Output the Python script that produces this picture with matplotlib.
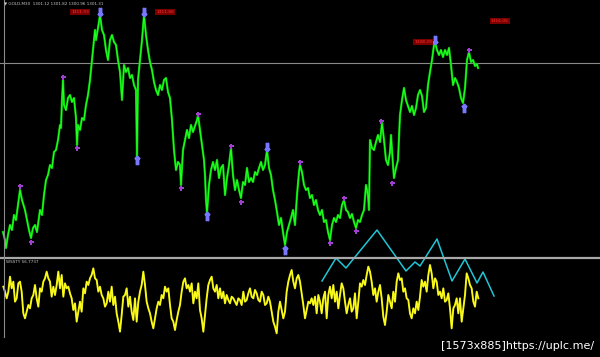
import matplotlib
matplotlib.use("Agg")
import matplotlib.pyplot as plt
import numpy as np
from matplotlib.lines import Line2D

# ---------------- data ----------------
# main price line: bar position and price level (arbitrary units, up = higher)
price_x = [3, 5, 6, 8, 10, 12, 14, 16, 18, 20,
           22, 25, 27, 29, 31, 33, 35, 37, 40, 42,
           44, 46, 48, 50, 52, 54, 56, 58, 60, 61,
           62, 63, 64, 66, 68, 70, 72, 74, 75, 76,
           77, 78, 80, 82, 84, 86, 88, 90, 92, 93,
           95, 96, 98, 100, 102, 104, 106, 108, 110, 112,
           114, 116, 118, 120, 122, 124, 126, 128, 130, 132,
           134, 136, 137, 138, 140, 142, 144, 146, 148, 150,
           152, 154, 156, 158, 160, 162, 164, 166, 168, 170,
           172, 174, 176, 178, 180, 181, 183, 185, 187, 189,
           191, 193, 195, 197, 198, 200, 202, 204, 205, 206,
           207, 209, 211, 213, 215, 217, 219, 221, 223, 225,
           227, 229, 231, 233, 235, 237, 239, 241, 243, 245,
           247, 249, 251, 253, 255, 257, 259, 261, 263, 265,
           267, 269, 271, 273, 275, 277, 279, 281, 283, 285,
           287, 289, 291, 293, 295, 297, 299, 300, 302, 304,
           306, 308, 310, 312, 314, 316, 318, 320, 322, 324,
           326, 328, 330, 332, 334, 336, 338, 340, 342, 344,
           346, 348, 350, 352, 354, 356, 358, 360, 362, 364,
           366, 368, 369, 370, 372, 374, 376, 378, 380, 382,
           384, 386, 388, 390, 391, 393, 394, 396, 398, 400,
           402, 404, 406, 408, 410, 412, 414, 416, 418, 420,
           422, 424, 426, 428, 430, 432, 434, 435, 437, 439,
           441, 443, 445, 447, 449, 451, 453, 455, 457, 459,
           461, 463, 465, 467, 469, 471, 473, 475, 477, 478]
price_h = [28, 20, 12, 25, 35, 30, 45, 40, 55, 70,
           60, 50, 40, 30, 22, 32, 35, 28, 50, 45,
           65, 80, 85, 95, 92, 108, 110, 120, 135, 132,
           160, 180, 155, 150, 162, 165, 158, 162, 152, 142,
           115, 135, 130, 142, 140, 155, 165, 180, 200, 210,
           230, 220, 232, 245, 230, 225, 210, 200, 220, 225,
           218, 215, 200, 188, 160, 195, 188, 192, 182, 185,
           175, 170, 102, 180, 200, 220, 245, 225, 210, 198,
           190, 178, 170, 165, 175, 170, 180, 182, 168, 162,
           140, 110, 90, 98, 95, 75, 110, 120, 130, 122,
           135, 128, 134, 140, 145, 130, 115, 100, 85, 60,
           47, 75, 90, 98, 90, 100, 82, 92, 95, 65,
           82, 95, 112, 85, 70, 80, 70, 62, 78, 75,
           92, 78, 82, 78, 88, 85, 92, 98, 90, 95,
           110, 92, 85, 70, 60, 48, 35, 42, 28, 15,
           28, 35, 42, 50, 35, 65, 88, 95, 88, 75,
           70, 72, 62, 65, 55, 60, 50, 45, 50, 38,
           40, 28, 20, 35, 42, 38, 45, 42, 55, 60,
           50, 48, 42, 46, 38, 32, 40, 38, 45, 50,
           75, 65, 50, 120, 112, 110, 118, 125, 118, 137,
           120, 100, 95, 108, 125, 95, 82, 92, 100, 145,
           160, 172, 160, 154, 148, 154, 145, 152, 165, 170,
           164, 148, 152, 175, 188, 200, 215, 218, 210, 205,
           210, 203, 210, 205, 212, 195, 175, 182, 178, 172,
           162, 157, 172, 200, 208, 198, 200, 194, 196, 192]
ref_level = 197  # horizontal grey level line

# fractal / signal markers
purple_x = [20, 31, 63, 77, 181, 198, 231, 241, 300, 330, 344, 356, 381, 392, 469]
purple_h = [74, 18, 183, 112, 72, 146, 114, 58, 98, 17, 62, 29, 139, 77, 210]
arrow_dn_x = [100, 144, 267, 435]
arrow_dn_h = [248, 248, 113, 220]
arrow_up_x = [137, 207, 285, 464]
arrow_up_h = [100, 44, 10, 152]

# price labels
label_x = [80, 165, 423, 500]
label_h = [248, 248, 218, 239]
label_txt = ["1311.93", "1311.66", "1308.29", "1316.05"]

# oscillator (lower window)
osc_vals = [155, 140, 120, 140, 185, 150, 170, 110, 120, 165,
            170, 140, 75, 60, 80, 100, 90, 120, 130, 160,
            120, 95, 150, 140, 170, 180, 200, 180, 170, 125,
            155, 130, 160, 200, 150, 190, 125, 165, 150, 155,
            135, 120, 85, 105, 50, 80, 110, 80, 150, 135,
            170, 160, 180, 190, 210, 180, 175, 140, 155, 130,
            120, 95, 105, 140, 110, 155, 100, 125, 75, 50,
            20, 70, 125, 130, 150, 95, 125, 80, 55, 120,
            50, 110, 140, 160, 200, 160, 110, 90, 75, 50,
            30, 60, 90, 110, 100, 130, 120, 155, 140, 150,
            100, 60, 50, 25, 55, 80, 100, 140, 170, 180,
            150, 160, 140, 165, 105, 140, 120, 165, 85, 60,
            20, 70, 120, 160, 175, 185, 150, 140, 160, 120,
            150, 120, 140, 105, 130, 115, 105, 125, 120, 110,
            100, 120, 115,
            100, 140, 110, 115, 135, 150, 125, 120, 145, 135,
            115, 110, 140, 130, 100, 105, 125, 110, 80, 50,
            35, 15, 80, 110, 85, 60, 80, 140, 170, 190,
            205, 170, 150, 180, 190, 170, 135, 100, 60, 85,
            110, 105, 120, 100, 125, 75, 130, 110, 75, 120,
            140, 60, 130, 155, 120, 160, 110, 140, 90, 130,
            165, 150, 110, 75, 100, 120, 80, 90, 135, 60,
            110, 165, 155, 175, 160, 190, 215, 200, 170, 130,
            150, 110, 140, 160, 120, 65, 40, 80, 130, 110,
            90, 140, 110, 170, 195, 175, 180, 140, 150, 120,
            115, 75, 60, 90, 75, 110, 85, 125, 175, 155,
            170, 140, 190, 220, 195, 150, 180, 170, 130, 140,
            120, 150, 110, 115, 135, 90, 30, 90, 100, 120,
            75, 120, 50, 90, 130, 195, 180, 160, 150, 110,
            95, 140, 120]

# zigzag of the oscillator
zz_x = [322, 336, 346, 377, 406, 415, 420, 437, 452, 465, 477, 483, 494]
zz_v = [172, 241, 211, 325, 202, 229, 217, 298, 172, 238, 166, 199, 127]

# ---------------- figure ----------------
W, H = 600, 357
fig = plt.figure(figsize=(W / 100, H / 100), dpi=100, facecolor="black")

ax1 = fig.add_axes([0, 100 / H, 1, 257 / H])
ax2 = fig.add_axes([0, 0, 1, 100 / H])
for ax in (ax1, ax2):
    ax.set_facecolor("black")
    ax.set_xticks([])
    ax.set_yticks([])
    for s in ax.spines.values():
        s.set_visible(False)
    ax.set_xlim(0, W)
ax1.set_ylim(3, 260)
ax2.set_ylim(-56, 244)

# grey level line
ax1.axhline(ref_level, color="#8a8a8a", lw=0.8, zorder=1)

# price line
ax1.plot(price_x, price_h, color="#00c000", lw=1.6, zorder=2)
ax1.plot(price_x, price_h, color="#22ff22", lw=0.8, zorder=3)

# markers
ax1.plot(purple_x, purple_h, ls="none", marker="P", ms=3.6, color="#a040d0",
         markeredgewidth=0, zorder=4)
ax1.plot(arrow_dn_x, arrow_dn_h, ls="none", marker=r"$\Downarrow$", ms=6,
         color="#7777ff", zorder=4)
ax1.plot(arrow_up_x, arrow_up_h, ls="none", marker=r"$\Uparrow$", ms=6,
         color="#7777ff", zorder=4)

# price labels
for lx, lh, t in zip(label_x, label_h, label_txt):
    ax1.text(lx, lh, t, fontsize=3.2, color="#ff3030", ha="center", va="center",
             bbox=dict(boxstyle="square,pad=0.25", fc="#7a0000", ec="none"), zorder=5)

# oscillator
osc_x = (10 + 5 * np.arange(len(osc_vals))) / 3.0
ax2.plot(osc_x, osc_vals, color="#e8e800", lw=1.4, zorder=2)
ax2.plot(osc_x, osc_vals, color="#ffff30", lw=0.6, zorder=3)

# zigzag (extends above its window)
ax2.plot(zz_x, zz_v, color="#1fc6d6", lw=1.1, clip_on=False, zorder=6)

# frame lines
fig.add_artist(Line2D([0, 1], [1 - 257.5 / H] * 2, transform=fig.transFigure,
                      color="#a8a8a8", lw=1.6))
fig.add_artist(Line2D([3.5 / W] * 2, [1 - 337 / H, 1], transform=fig.transFigure,
                      color="#8a8a8a", lw=0.8))

# texts
fig.text(4 / W, 1 - 3.5 / H, "\u25bc GOLD,M30  1301.12 1301.82 1300.96 1301.31",
         fontsize=3, color="#c8c8c8", ha="left", va="center")
fig.text(6 / W, 1 - 262 / H, "WSSTY 56.7737", fontsize=3, color="#c8c8c8",
         ha="left", va="center")
fig.text(441 / W, 1 - 346 / H, "[1573x885]https://uplc.me/", fontsize=8,
         color="white", ha="left", va="center", family="Liberation Sans Narrow")

fig.savefig("out.png", dpi=100, facecolor="black")
